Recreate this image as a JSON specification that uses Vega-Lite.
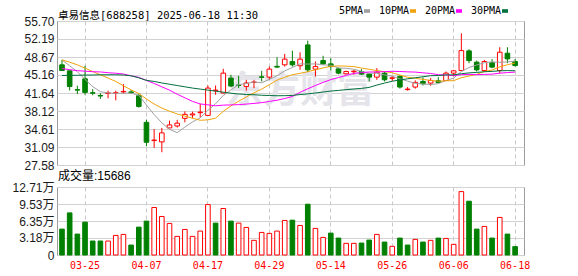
{
  "$schema": "https://vega.github.io/schema/vega-lite/v6.json",
  "padding": {"left": 11, "top": 6, "right": 0, "bottom": 0},
  "bounds": "flush",
  "spacing": 22,
  "config": {
    "view": {"stroke": "#9c9c9c", "strokeWidth": 1},
    "axis": {"labelFont": "Liberation Sans, Noto Sans CJK SC", "labelFontSize": 12, "labelColor": "#1a1a1a", "title": null}
  },
  "datasets": {
    "k": [
      {"d":"03-20","o":47.14,"h":48.1,"l":46.0,"c":46.03,"v":48400,"vu":0,"m5":48.1,"m10":48.1,"m20":46.4,"m30":45.05},
      {"d":"03-21","o":45.97,"h":46.0,"l":42.14,"c":42.91,"v":78700,"vu":0,"m5":46.95,"m10":47.66,"m20":46.2,"m30":45.1},
      {"d":"03-24","o":42.3,"h":43.05,"l":41.45,"c":42.2,"v":39100,"vu":0,"m5":45.8,"m10":47.14,"m20":46.0,"m30":45.1},
      {"d":"03-25","o":44.41,"h":46.94,"l":41.3,"c":41.75,"v":61400,"vu":0,"m5":44.3,"m10":46.5,"m20":45.9,"m30":45.15},
      {"d":"03-26","o":41.7,"h":42.4,"l":41.2,"c":41.6,"v":26100,"vu":0,"m5":42.9,"m10":45.83,"m20":45.8,"m30":45.15},
      {"d":"03-27","o":41.15,"h":41.6,"l":40.5,"c":41.05,"v":26100,"vu":0,"m5":41.9,"m10":45.2,"m20":45.75,"m30":45.2},
      {"d":"03-28","o":41.55,"h":42.1,"l":40.6,"c":41.65,"v":26100,"vu":1,"m5":41.65,"m10":44.55,"m20":45.6,"m30":45.2},
      {"d":"03-31","o":41.55,"h":42.1,"l":40.2,"c":41.7,"v":36600,"vu":1,"m5":41.55,"m10":43.9,"m20":45.5,"m30":45.2},
      {"d":"04-01","o":41.85,"h":43.4,"l":41.5,"c":41.95,"v":38500,"vu":1,"m5":41.59,"m10":43.05,"m20":45.35,"m30":45.15},
      {"d":"04-02","o":41.85,"h":42.2,"l":41.5,"c":41.7,"v":18600,"vu":0,"m5":41.61,"m10":42.25,"m20":45.0,"m30":45.0},
      {"d":"04-03","o":41.1,"h":41.6,"l":38.77,"c":39.02,"v":52100,"vu":0,"m5":41.2,"m10":41.55,"m20":44.7,"m30":44.6},
      {"d":"04-07","o":35.91,"h":36.43,"l":31.24,"c":32.02,"v":63300,"vu":0,"m5":39.28,"m10":40.46,"m20":44.1,"m30":44.1},
      {"d":"04-08","o":32.35,"h":34.6,"l":30.93,"c":32.45,"v":88800,"vu":1,"m5":37.43,"m10":39.49,"m20":43.5,"m30":43.9},
      {"d":"04-09","o":32.09,"h":34.82,"l":30.07,"c":33.85,"v":72000,"vu":1,"m5":35.81,"m10":38.7,"m20":42.85,"m30":43.6},
      {"d":"04-10","o":34.82,"h":36.24,"l":34.8,"c":35.4,"v":59000,"vu":1,"m5":34.55,"m10":38.08,"m20":42.2,"m30":43.35},
      {"d":"04-11","o":35.2,"h":36.4,"l":34.9,"c":35.75,"v":34800,"vu":1,"m5":33.89,"m10":37.55,"m20":41.4,"m30":43.1},
      {"d":"04-14","o":36.69,"h":38.05,"l":35.91,"c":37.47,"v":47800,"vu":1,"m5":34.98,"m10":37.13,"m20":40.7,"m30":42.85},
      {"d":"04-15","o":37.35,"h":38.0,"l":36.7,"c":37.55,"v":34800,"vu":1,"m5":36.0,"m10":36.72,"m20":40.0,"m30":42.6},
      {"d":"04-16","o":37.8,"h":39.55,"l":36.9,"c":37.9,"v":44700,"vu":1,"m5":36.81,"m10":36.31,"m20":39.5,"m30":42.4},
      {"d":"04-17","o":37.27,"h":43.11,"l":37.2,"c":42.6,"v":94300,"vu":1,"m5":38.25,"m10":36.4,"m20":39.33,"m30":42.2},
      {"d":"04-18","o":42.1,"h":43.1,"l":41.3,"c":42.2,"v":59600,"vu":0,"m5":39.54,"m10":36.72,"m20":39.14,"m30":42.0},
      {"d":"04-21","o":41.63,"h":46.36,"l":41.6,"c":45.52,"v":86900,"vu":1,"m5":41.15,"m10":38.07,"m20":39.27,"m30":41.8},
      {"d":"04-22","o":44.55,"h":45.2,"l":42.8,"c":43.0,"v":63300,"vu":0,"m5":42.24,"m10":39.12,"m20":39.31,"m30":41.6},
      {"d":"04-23","o":43.2,"h":45.0,"l":42.6,"c":43.1,"v":59600,"vu":1,"m5":43.28,"m10":40.05,"m20":39.37,"m30":41.45},
      {"d":"04-24","o":42.92,"h":44.2,"l":42.1,"c":43.58,"v":51500,"vu":1,"m5":43.48,"m10":40.87,"m20":39.47,"m30":41.35},
      {"d":"04-25","o":43.7,"h":44.2,"l":42.6,"c":43.8,"v":27400,"vu":1,"m5":43.8,"m10":41.67,"m20":39.61,"m30":41.3},
      {"d":"04-28","o":44.8,"h":45.97,"l":43.9,"c":44.7,"v":42200,"vu":1,"m5":43.64,"m10":42.4,"m20":39.76,"m30":41.2},
      {"d":"04-29","o":44.74,"h":46.8,"l":44.2,"c":46.3,"v":40400,"vu":1,"m5":44.3,"m10":43.27,"m20":39.99,"m30":41.15},
      {"d":"04-30","o":46.85,"h":48.63,"l":46.5,"c":46.7,"v":44700,"vu":1,"m5":45.02,"m10":44.15,"m20":40.23,"m30":41.1},
      {"d":"05-06","o":47.14,"h":49.28,"l":46.8,"c":48.25,"v":64600,"vu":1,"m5":45.95,"m10":44.72,"m20":40.56,"m30":41.12},
      {"d":"05-07","o":47.78,"h":49.9,"l":46.8,"c":47.14,"v":65100,"vu":0,"m5":46.62,"m10":45.21,"m20":40.96,"m30":41.16},
      {"d":"05-08","o":46.96,"h":49.6,"l":46.16,"c":48.25,"v":55200,"vu":1,"m5":47.33,"m10":45.48,"m20":41.78,"m30":41.34},
      {"d":"05-09","o":51.03,"h":51.87,"l":45.72,"c":46.16,"v":94900,"vu":0,"m5":47.3,"m10":45.8,"m20":42.46,"m30":41.47},
      {"d":"05-12","o":46.3,"h":47.8,"l":44.86,"c":46.8,"v":49700,"vu":1,"m5":47.32,"m10":46.17,"m20":43.11,"m30":41.64},
      {"d":"05-13","o":47.97,"h":48.9,"l":47.14,"c":47.33,"v":32900,"vu":1,"m5":47.14,"m10":46.54,"m20":43.71,"m30":41.83},
      {"d":"05-14","o":47.33,"h":48.44,"l":46.03,"c":46.8,"v":40900,"vu":0,"m5":47.07,"m10":46.84,"m20":44.26,"m30":42.02},
      {"d":"05-15","o":46.36,"h":46.6,"l":45.3,"c":45.52,"v":31600,"vu":0,"m5":46.52,"m10":46.93,"m20":44.66,"m30":42.15},
      {"d":"05-16","o":45.39,"h":46.0,"l":45.3,"c":45.84,"v":21800,"vu":1,"m5":46.46,"m10":46.88,"m20":45.07,"m30":42.29},
      {"d":"05-19","o":45.8,"h":46.1,"l":45.2,"c":45.9,"v":21800,"vu":1,"m5":46.28,"m10":46.8,"m20":45.47,"m30":42.42},
      {"d":"05-20","o":45.84,"h":46.3,"l":45.2,"c":45.33,"v":22300,"vu":0,"m5":45.88,"m10":46.51,"m20":45.61,"m30":42.54},
      {"d":"05-21","o":45.33,"h":45.52,"l":43.9,"c":44.74,"v":27900,"vu":0,"m5":45.47,"m10":46.27,"m20":45.74,"m30":42.73},
      {"d":"05-22","o":44.74,"h":46.5,"l":44.2,"c":45.71,"v":38500,"vu":1,"m5":45.5,"m10":46.01,"m20":45.75,"m30":43.19},
      {"d":"05-23","o":45.52,"h":45.84,"l":43.9,"c":44.22,"v":24200,"vu":0,"m5":45.18,"m10":45.82,"m20":45.81,"m30":43.58},
      {"d":"05-26","o":44.5,"h":45.0,"l":44.0,"c":44.6,"v":16200,"vu":1,"m5":44.92,"m10":45.6,"m20":45.88,"m30":43.94},
      {"d":"05-27","o":44.87,"h":45.1,"l":42.5,"c":42.8,"v":31600,"vu":0,"m5":44.41,"m10":45.15,"m20":45.84,"m30":44.19},
      {"d":"05-28","o":42.3,"h":42.8,"l":42.1,"c":42.4,"v":18600,"vu":0,"m5":43.95,"m10":44.71,"m20":45.77,"m30":44.41},
      {"d":"05-29","o":42.8,"h":44.1,"l":42.5,"c":43.7,"v":29200,"vu":1,"m5":43.54,"m10":44.52,"m20":45.72,"m30":44.61},
      {"d":"05-30","o":43.9,"h":44.67,"l":43.1,"c":43.45,"v":24200,"vu":0,"m5":43.39,"m10":44.29,"m20":45.58,"m30":44.81},
      {"d":"06-03","o":43.58,"h":44.55,"l":43.05,"c":44.09,"v":27400,"vu":1,"m5":43.29,"m10":44.1,"m20":45.45,"m30":45.02},
      {"d":"06-04","o":44.03,"h":44.74,"l":43.58,"c":43.7,"v":31600,"vu":0,"m5":43.47,"m10":43.94,"m20":45.22,"m30":45.05},
      {"d":"06-05","o":44.08,"h":45.84,"l":44.03,"c":45.52,"v":31000,"vu":1,"m5":44.09,"m10":44.02,"m20":45.14,"m30":45.17},
      {"d":"06-06","o":45.52,"h":46.16,"l":44.86,"c":45.97,"v":19900,"vu":1,"m5":44.55,"m10":44.05,"m20":45.03,"m30":45.18},
      {"d":"06-09","o":46.03,"h":53.3,"l":46.0,"c":49.92,"v":118500,"vu":1,"m5":45.84,"m10":44.62,"m20":45.22,"m30":45.41},
      {"d":"06-10","o":49.86,"h":50.19,"l":47.47,"c":47.97,"v":100500,"vu":0,"m5":46.62,"m10":44.95,"m20":45.28,"m30":45.57},
      {"d":"06-11","o":47.66,"h":47.97,"l":45.84,"c":46.16,"v":48400,"vu":0,"m5":47.11,"m10":45.29,"m20":45.22,"m30":45.66},
      {"d":"06-12","o":46.03,"h":48.1,"l":45.84,"c":47.78,"v":53400,"vu":1,"m5":47.56,"m10":45.83,"m20":45.27,"m30":45.79},
      {"d":"06-13","o":47.58,"h":48.25,"l":46.5,"c":46.69,"v":31600,"vu":0,"m5":47.7,"m10":46.13,"m20":45.32,"m30":45.86},
      {"d":"06-16","o":46.03,"h":50.58,"l":45.52,"c":49.6,"v":70200,"vu":1,"m5":47.64,"m10":46.74,"m20":45.51,"m30":45.97},
      {"d":"06-17","o":49.41,"h":50.58,"l":47.47,"c":48.3,"v":39100,"vu":0,"m5":47.71,"m10":47.16,"m20":45.63,"m30":46.02},
      {"d":"06-18","o":47.78,"h":48.25,"l":46.8,"c":47.0,"v":15686,"vu":0,"m5":47.87,"m10":47.49,"m20":45.72,"m30":45.98}
    ],
    "wm": [{"d":"05-08","p":41.9,"t":"东方财富"}]
  },
  "vconcat": [
    {
      "width": 467,
      "height": 144,
      "encoding": {
        "x": {
          "field": "d", "type": "ordinal", "sort": null,
          "scale": {
            "domain": ["03-20","03-21","03-24","03-25","03-26","03-27","03-28","03-31","04-01","04-02","04-03","04-07","04-08","04-09","04-10","04-11","04-14","04-15","04-16","04-17","04-18","04-21","04-22","04-23","04-24","04-25","04-28","04-29","04-30","05-06","05-07","05-08","05-09","05-12","05-13","05-14","05-15","05-16","05-19","05-20","05-21","05-22","05-23","05-26","05-27","05-28","05-29","05-30","06-03","06-04","06-05","06-06","06-09","06-10","06-11","06-12","06-13","06-16","06-17","06-18"],
            "paddingInner": 0.4, "paddingOuter": 0.6035, "align": 0.29
          },
          "axis": {"values": ["03-25","04-07","04-17","04-29","05-14","05-26","06-06","06-18"], "labels": false, "ticks": false, "domain": false, "grid": true, "gridDash": [4, 3], "gridColor": "#c8c8c8", "bandPosition": 0.5}
        }
      },
      "layer": [
        {
          "data": {"name": "wm"},
          "mark": {"type": "text", "font": "Noto Sans CJK SC", "fontSize": 37, "fontWeight": "bold", "color": "#e4e4ea", "align": "center", "baseline": "middle"},
          "encoding": {
            "y": {"field": "p", "type": "quantitative", "scale": {"domain": [27.58, 55.70], "nice": false, "zero": false},
                  "axis": {"values": [27.58, 31.09, 34.61, 38.12, 41.64, 45.16, 48.67, 52.19, 55.70], "format": ".2f", "grid": true, "gridColor": "#d2d2d2", "domain": false, "ticks": false, "labelPadding": 3, "labelBound": false, "labelOverlap": false, "labelFlush": false}},
            "text": {"field": "t"}
          }
        },
        {
          "data": {"name": "k"},
          "mark": {"type": "rule", "strokeWidth": 1},
          "encoding": {
            "y": {"field": "l", "type": "quantitative",
                  "axis": {"values": [27.58, 31.09, 34.61, 38.12, 41.64, 45.16, 48.67, 52.19, 55.70], "format": ".2f", "grid": true, "gridColor": "#d2d2d2", "domain": false, "ticks": false, "labelPadding": 3, "labelBound": false, "labelOverlap": false, "labelFlush": false}},
            "y2": {"field": "h"},
            "color": {"condition": {"test": "datum.c >= datum.o", "value": "#ff0000"}, "value": "#008000"}
          }
        },
        {
          "data": {"name": "k"},
          "mark": {"type": "bar", "strokeWidth": 1},
          "encoding": {
            "y": {"field": "o", "type": "quantitative",
                  "axis": {"values": [27.58, 31.09, 34.61, 38.12, 41.64, 45.16, 48.67, 52.19, 55.70], "format": ".2f", "grid": true, "gridColor": "#d2d2d2", "domain": false, "ticks": false, "labelPadding": 3, "labelBound": false, "labelOverlap": false, "labelFlush": false}},
            "y2": {"field": "c"},
            "fill": {"condition": {"test": "datum.c >= datum.o", "value": "#ffffff"}, "value": "#008000"},
            "stroke": {"condition": {"test": "datum.c >= datum.o", "value": "#ff0000"}, "value": "#008000"}
          }
        },
        {
          "data": {"name": "k"},
          "transform": [{"fold": ["m5", "m10", "m20", "m30"], "as": ["ma", "mv"]}],
          "mark": {"type": "line", "strokeWidth": 1, "interpolate": "linear"},
          "encoding": {
            "y": {"field": "mv", "type": "quantitative",
                  "axis": {"values": [27.58, 31.09, 34.61, 38.12, 41.64, 45.16, 48.67, 52.19, 55.70], "format": ".2f", "grid": true, "gridColor": "#d2d2d2", "domain": false, "ticks": false, "labelPadding": 3, "labelBound": false, "labelOverlap": false, "labelFlush": false}},
            "color": {
              "field": "ma", "type": "nominal",
              "scale": {"domain": ["m5", "m10", "m20", "m30"], "range": ["#a0a0a0", "#f0a30a", "#ff00ff", "#00703c"]},
              "legend": {
                "orient": "none", "legendX": 1, "legendY": -15, "direction": "horizontal",
                "title": "卓易信息[688258] 2025-06-18 11:30", "titleOrient": "left", "titlePadding": 103, "titleLimit": 400,
                "titleFont": "DejaVu Sans Mono, Noto Sans CJK SC", "titleFontSize": 10.5, "titleFontWeight": "normal", "titleColor": "#000000", "titleBaseline": "top",
                "symbolType": "M-1,-0.6H1V0.6H-1Z", "symbolSize": 36,
                "labelAlign": "right", "labelOffset": -9, "labelFont": "DejaVu Sans Mono", "labelFontSize": 10, "labelColor": "#000000",
                "columnPadding": 8,
                "labelExpr": "datum.label == 'm5' ? '5PMA' : datum.label == 'm10' ? '10PMA' : datum.label == 'm20' ? '20PMA' : '30PMA'",
                "encode": {"symbols": {"update": {"fill": {"scale": "color", "field": "value"}, "strokeWidth": {"value": 0}}}}
              }
            }
          }
        }
      ]
    },
    {
      "width": 467,
      "height": 68,
      "data": {"name": "k"},
      "title": {"text": "成交量:15686", "anchor": "start", "frame": "group", "font": "Liberation Sans, Noto Sans CJK SC", "fontSize": 12, "fontWeight": "normal", "color": "#000000", "baseline": "alphabetic", "offset": 5, "dx": 1, "dy": 16},
      "mark": {"type": "bar", "strokeWidth": 1},
      "encoding": {
        "x": {
          "field": "d", "type": "ordinal", "sort": null,
          "scale": {"paddingInner": 0.4, "paddingOuter": 0.6035, "align": 0.29},
          "axis": {"values": ["03-25","04-07","04-17","04-29","05-14","05-26","06-06","06-18"], "labelFont": "DejaVu Sans Mono", "labelFontSize": 10, "labelColor": "#ff0000", "labelAngle": 0, "labelPadding": 5, "ticks": false, "domain": false, "grid": true, "gridDash": [4, 3], "gridColor": "#c8c8c8", "bandPosition": 0.5}
        },
        "y": {
          "field": "v", "type": "quantitative",
          "scale": {"domain": [0, 127100], "nice": false, "zero": true},
          "axis": {"values": [0, 31800, 63500, 95300, 127100], "labelExpr": "datum.value == 0 ? '0' : format(datum.value / 10000, '.2f') + '万'", "grid": true, "gridColor": "#d2d2d2", "domain": false, "ticks": false, "labelPadding": 3, "labelBound": false, "labelOverlap": false, "labelFlush": false}
        },
        "fill": {"condition": {"test": "datum.vu == 1", "value": "#ffffff"}, "value": "#008000"},
        "stroke": {"condition": {"test": "datum.vu == 1", "value": "#ff0000"}, "value": "#008000"}
      }
    }
  ]
}
